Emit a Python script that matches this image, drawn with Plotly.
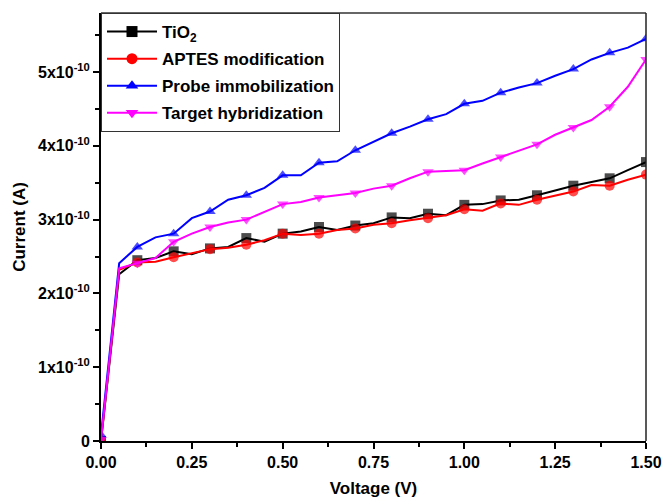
import plotly.graph_objects as go

voltage = [0.00, 0.05, 0.10, 0.15, 0.20, 0.25, 0.30, 0.35, 0.40, 0.45, 0.50,
           0.55, 0.60, 0.65, 0.70, 0.75, 0.80, 0.85, 0.90, 0.95, 1.00,
           1.05, 1.10, 1.15, 1.20, 1.25, 1.30, 1.35, 1.40, 1.45, 1.50]

# currents in units of 1e-10 A
tio2 = [0.00, 2.26, 2.45, 2.48, 2.57, 2.53, 2.61, 2.63, 2.75, 2.70, 2.81,
        2.84, 2.90, 2.86, 2.92, 2.95, 3.03, 3.02, 3.08, 3.06, 3.20,
        3.21, 3.26, 3.27, 3.33, 3.40, 3.46, 3.51, 3.56, 3.67, 3.78]
aptes = [0.00, 2.32, 2.42, 2.43, 2.49, 2.54, 2.60, 2.62, 2.66, 2.72, 2.81,
         2.79, 2.81, 2.86, 2.88, 2.93, 2.95, 2.99, 3.02, 3.06, 3.14,
         3.12, 3.22, 3.20, 3.27, 3.32, 3.38, 3.47, 3.46, 3.54, 3.61]
probe = [0.08, 2.41, 2.63, 2.76, 2.81, 3.02, 3.11, 3.27, 3.33, 3.43, 3.60,
         3.60, 3.77, 3.79, 3.94, 4.06, 4.17, 4.26, 4.36, 4.43, 4.57,
         4.61, 4.72, 4.79, 4.85, 4.95, 5.04, 5.17, 5.26, 5.33, 5.45]
target = [0.02, 2.34, 2.41, 2.48, 2.70, 2.81, 2.90, 2.96, 3.00, 3.11, 3.21,
          3.24, 3.30, 3.33, 3.36, 3.42, 3.46, 3.56, 3.65, 3.66, 3.67,
          3.76, 3.85, 3.94, 4.02, 4.15, 4.25, 4.35, 4.53, 4.80, 5.17]

names = ["TiO<sub>2</sub>", "APTES modification", "Probe immobilization", "Target hybridization"]
colors = ["#000000", "#FF0000", "#0000FF", "#FF00FF"]
symbols = ["square", "circle", "triangle-up", "triangle-down"]
series = [tio2, aptes, probe, target]

y_tickvals = [0, 1, 2, 3, 4, 5]
y_ticktext = ["0", "1x10<sup>-10</sup>", "2x10<sup>-10</sup>", "3x10<sup>-10</sup>",
              "4x10<sup>-10</sup>", "5x10<sup>-10</sup>"]
x_tickvals = [0.0, 0.25, 0.5, 0.75, 1.0, 1.25, 1.5]
x_ticktext = ["0.00", "0.25", "0.50", "0.75", "1.00", "1.25", "1.50"]

font = "Liberation Sans, Arial, sans-serif"

fig = go.Figure()
for i, (nm, c, s, ys) in enumerate(zip(names, colors, symbols, series)):
    sizes = [10 if k % 2 == 0 else 0 for k in range(len(voltage))]
    fig.add_trace(go.Scatter(
        x=voltage, y=ys, mode="lines+markers", showlegend=False,
        line=dict(color=c, width=2),
        marker=dict(symbol=s, size=sizes, color=c, line=dict(width=0)),
        legendgroup="g%d" % i, hoverinfo="x+y"))
for i, (nm, c, s) in enumerate(zip(names, colors, symbols)):
    fig.add_trace(go.Scatter(
        x=[None], y=[None], mode="lines+markers", name=nm,
        line=dict(color=c, width=2),
        marker=dict(symbol=s, size=11, color=c, line=dict(width=0)),
        legendgroup="g%d" % i))

fig.update_layout(
    width=662, height=498,
    margin=dict(l=101, r=16, t=13, b=57, autoexpand=False),
    paper_bgcolor="white", plot_bgcolor="white",
    font=dict(family=font, size=16, color="black"),
    showlegend=True,
    legend=dict(x=0, y=1, xanchor="left", yanchor="top",
                bordercolor="#333333", borderwidth=1, bgcolor="white",
                font=dict(family=font, size=17, color="black", weight="bold"),
                itemwidth=50,
                tracegroupgap=2, traceorder="grouped"),
    xaxis=dict(range=[0, 1.5], tickvals=x_tickvals, ticktext=x_ticktext,
               showline=True, linecolor="black", linewidth=2, mirror=False,
               ticks="outside", ticklen=6, tickwidth=2, tickcolor="black",
               minor=dict(ticks="outside", ticklen=4, tickwidth=1.5, tickcolor="black",
                          tickvals=[0.125, 0.375, 0.625, 0.875, 1.125, 1.375]),
               showgrid=False, zeroline=False,
               tickfont=dict(family=font, size=16, color="black", weight="bold"),
               title=dict(text="Voltage (V)", standoff=12,
                          font=dict(family=font, size=17, color="black", weight="bold"))),
    yaxis=dict(range=[0, 5.8], tickvals=y_tickvals, ticktext=y_ticktext,
               showline=True, linecolor="black", linewidth=2, mirror=False,
               ticks="outside", ticklen=6, tickwidth=2, tickcolor="black",
               minor=dict(ticks="outside", ticklen=4, tickwidth=1.5, tickcolor="black",
                          tickvals=[0.5, 1.5, 2.5, 3.5, 4.5, 5.5]),
               showgrid=False, zeroline=False,
               tickfont=dict(family=font, size=16, color="black", weight="bold"),
               title=dict(text="Current (A)", standoff=8,
                          font=dict(family=font, size=17, color="black", weight="bold"))),
    shapes=[
        dict(type="line", xref="paper", yref="paper", x0=0, x1=1, y0=1, y1=1,
             line=dict(color="#333333", width=1.5)),
        dict(type="line", xref="paper", yref="paper", x0=1, x1=1, y0=0, y1=1,
             line=dict(color="#222222", width=1.5)),
    ],
)

fig.write_html("out.html",
               config={"displayModeBar": False},
               post_script="document.body.style.margin='0';"
                           "document.documentElement.style.overflow='hidden';")
